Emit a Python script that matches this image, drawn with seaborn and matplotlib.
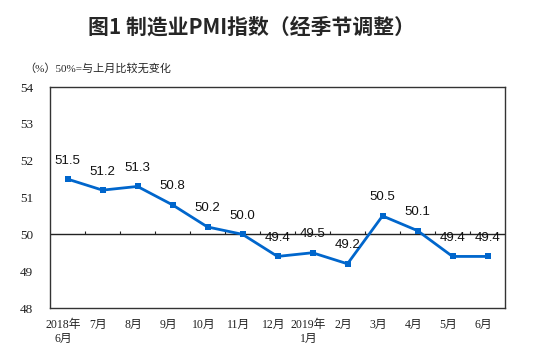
import numpy as np
import pandas as pd
import matplotlib
matplotlib.use("Agg")
import matplotlib.pyplot as plt
import matplotlib.transforms as mtransforms
import seaborn as sns

# data
months = ["2018年\n6月", "7月", "8月", "9月", "10月", "11月", "12月",
          "2019年\n1月", "2月", "3月", "4月", "5月", "6月"]
pmi = [51.5, 51.2, 51.3, 50.8, 50.2, 50.0, 49.4, 49.5, 49.2, 50.5, 50.1, 49.4, 49.4]
yticks = [48, 49, 50, 51, 52, 53, 54]

sns.set_style("white")
plt.rcParams["font.family"] = ["Liberation Serif", "Noto Sans CJK SC"]
LINE = "#0066CC"

df = pd.DataFrame({"pos": np.arange(len(months)), "pmi": pmi})

fig = plt.figure(figsize=(5.46, 3.56), dpi=100)
ax = fig.add_axes([50/546, 48/356, 455/546, 221/356])

sns.lineplot(data=df, x="pos", y="pmi", ax=ax, color=LINE, linewidth=2,
             marker="s", markersize=5, markeredgewidth=0)

ax.set_xlim(-0.5, len(months) - 0.5)
ax.set_ylim(48, 54)
ax.set_xlabel("")
ax.set_ylabel("")

# y axis: small inward ticks
ax.set_yticks(yticks)
ax.set_yticklabels([str(t) for t in yticks], fontsize=9.5)
ax.tick_params(axis="y", direction="in", length=3, width=0.8, pad=12, colors="#222222")

# x labels at category centres, shifted a touch left like the original
ax.set_xticks(df["pos"])
ax.set_xticklabels(months, fontsize=8.5, linespacing=1.25, va="top")
ax.tick_params(axis="x", length=0, pad=8, colors="#222222")
shift = mtransforms.ScaledTranslation(-4/100, 0, fig.dpi_scale_trans)
for lab in ax.get_xticklabels():
    lab.set_transform(lab.get_transform() + shift)

for s in ax.spines.values():
    s.set_color("#333333")
    s.set_linewidth(1)

# the 50 reference line with category boundary ticks on it
ax.axhline(50, color="#222222", linewidth=1, zorder=1)
bounds = df["pos"].values[:-1] + 0.5
ax.vlines(bounds, 50, 50.1, color="#222222", linewidth=0.8, zorder=1)

for x, y in zip(df["pos"], df["pmi"]):
    ax.annotate(f"{y:.1f}", (x, y), xytext=(0, 9), textcoords="offset points",
                ha="center", va="bottom", fontsize=9.5,
                family=["Liberation Sans", "DejaVu Sans"], color="#111111")

fig.text(252/546, 1 - 27/356, "图1 制造业PMI指数（经季节调整）", ha="center", va="center",
         fontsize=15, fontweight="bold", family=["Noto Sans CJK SC", "DejaVu Sans"])
fig.text(24/546, 1 - 68/356, "（%）50%=与上月比较无变化", ha="left", va="center",
         fontsize=8, family=["Liberation Serif", "Noto Sans CJK SC"])

fig.savefig("out.png", dpi=100)
plt.close(fig)
